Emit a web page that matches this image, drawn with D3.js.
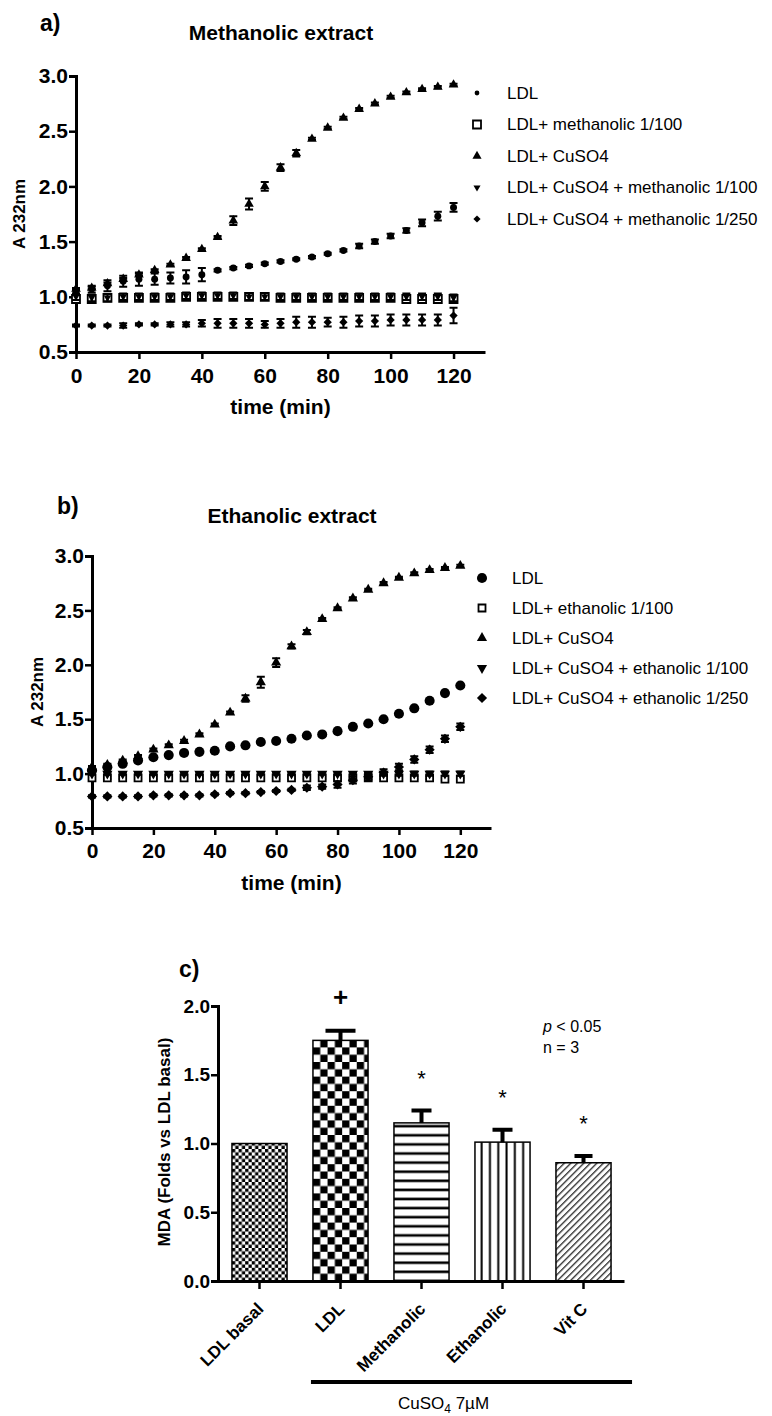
<!DOCTYPE html>
<html lang="en-US">
<head>
    <meta charset="utf-8">
    <script src="https://d3js.org/d3.v7.min.js"></script>
    <style>
        body { margin: 0; background: #fff; }
        text { font-family: "Liberation Sans", Arial, sans-serif; fill: #000; }
    </style>
</head>
<body>
<div id="canvas"></div>
<script>
    // ---- data ----
    var times = [0, 5, 10, 15, 20, 25, 30, 35, 40, 45, 50, 55, 60, 65, 70, 75, 80, 85, 90, 95, 100, 105, 110, 115, 120];
    var timeTicks = [0, 20, 40, 60, 80, 100, 120];
    var absTicks = [0.5, 1.0, 1.5, 2.0, 2.5, 3.0];

    // a) methanolic extract
    var aNames = ["LDL", "LDL+ methanolic 1/100", "LDL+ CuSO4", "LDL+ CuSO4 + methanolic 1/100", "LDL+ CuSO4 + methanolic 1/250"];
    var aLDL = [1.04, 1.07, 1.10, 1.14, 1.16, 1.16, 1.17, 1.18, 1.20, 1.24, 1.26, 1.28, 1.30, 1.32, 1.34, 1.36, 1.39, 1.42, 1.46, 1.50, 1.55, 1.60, 1.67, 1.73, 1.81];
    var aLDLErr = [0.03, 0.03, 0.05, 0.05, 0.06, 0.05, 0.05, 0.06, 0.06, 0.01, 0.01, 0.01, 0.01, 0.01, 0.01, 0.01, 0.01, 0.01, 0.02, 0.02, 0.02, 0.02, 0.03, 0.04, 0.04];
    var aMeth100 = [0.98, 0.98, 0.99, 0.99, 0.99, 0.99, 0.99, 1.00, 1.00, 1.00, 1.00, 1.00, 1.00, 0.99, 0.99, 0.99, 0.99, 0.99, 0.99, 0.99, 0.99, 0.98, 0.98, 0.98, 0.98];
    var aMeth100Err = [0.01, 0.01, 0.01, 0.01, 0.01, 0.01, 0.01, 0.01, 0.01, 0.01, 0.01, 0.01, 0.01, 0.01, 0.01, 0.01, 0.01, 0.01, 0.01, 0.01, 0.01, 0.01, 0.01, 0.01, 0.01];
    var aCu = [1.07, 1.08, 1.12, 1.16, 1.20, 1.24, 1.29, 1.35, 1.43, 1.54, 1.69, 1.84, 2.00, 2.17, 2.30, 2.43, 2.53, 2.62, 2.70, 2.75, 2.81, 2.85, 2.88, 2.90, 2.92];
    var aCuErr = [0.01, 0.01, 0.01, 0.01, 0.01, 0.01, 0.01, 0.01, 0.01, 0.01, 0.04, 0.05, 0.04, 0.03, 0.03, 0.01, 0.01, 0.01, 0.01, 0.01, 0.01, 0.01, 0.01, 0.01, 0.01];
    var aCuMeth100 = [1.00, 0.99, 0.99, 1.00, 1.00, 1.00, 1.00, 1.01, 1.01, 1.01, 1.01, 1.00, 1.00, 1.00, 1.00, 1.00, 1.00, 1.00, 1.00, 1.00, 1.00, 1.00, 1.00, 1.00, 0.99];
    var aCuMeth100Err = [0.03, 0.03, 0.03, 0.03, 0.03, 0.03, 0.03, 0.03, 0.03, 0.03, 0.03, 0.03, 0.03, 0.03, 0.03, 0.03, 0.03, 0.03, 0.03, 0.03, 0.03, 0.03, 0.03, 0.03, 0.03];
    var aCuMeth250 = [0.74, 0.74, 0.74, 0.74, 0.75, 0.75, 0.75, 0.75, 0.76, 0.76, 0.76, 0.76, 0.75, 0.76, 0.77, 0.77, 0.77, 0.77, 0.78, 0.78, 0.79, 0.79, 0.79, 0.79, 0.83];
    var aCuMeth250Err = [0.01, 0.01, 0.01, 0.02, 0.01, 0.01, 0.02, 0.02, 0.03, 0.04, 0.04, 0.04, 0.03, 0.04, 0.05, 0.05, 0.04, 0.05, 0.05, 0.05, 0.05, 0.05, 0.05, 0.05, 0.07];

    // b) ethanolic extract
    var bNames = ["LDL", "LDL+ ethanolic 1/100", "LDL+ CuSO4", "LDL+ CuSO4 + ethanolic 1/100", "LDL+ CuSO4 + ethanolic 1/250"];
    var bLDL = [1.03, 1.06, 1.09, 1.12, 1.15, 1.17, 1.19, 1.20, 1.21, 1.25, 1.26, 1.29, 1.30, 1.32, 1.35, 1.36, 1.39, 1.43, 1.46, 1.50, 1.55, 1.60, 1.67, 1.74, 1.81];
    var bLDLErr = [0.01, 0.01, 0.01, 0.01, 0.01, 0.01, 0.01, 0.01, 0.01, 0.01, 0.01, 0.01, 0.01, 0.01, 0.01, 0.01, 0.01, 0.01, 0.01, 0.01, 0.01, 0.01, 0.01, 0.01, 0.01];
    var bEth100 = [0.96, 0.96, 0.96, 0.96, 0.96, 0.96, 0.96, 0.96, 0.96, 0.96, 0.96, 0.96, 0.96, 0.96, 0.96, 0.96, 0.96, 0.96, 0.96, 0.96, 0.96, 0.96, 0.96, 0.95, 0.95];
    var bEth100Err = [0.01, 0.01, 0.01, 0.01, 0.01, 0.01, 0.01, 0.01, 0.01, 0.01, 0.01, 0.01, 0.01, 0.01, 0.01, 0.01, 0.01, 0.01, 0.01, 0.01, 0.01, 0.01, 0.01, 0.01, 0.01];
    var bCu = [1.06, 1.08, 1.12, 1.16, 1.22, 1.26, 1.30, 1.36, 1.45, 1.56, 1.69, 1.84, 2.02, 2.17, 2.30, 2.42, 2.52, 2.61, 2.69, 2.75, 2.80, 2.84, 2.87, 2.89, 2.91];
    var bCuErr = [0.01, 0.01, 0.01, 0.01, 0.01, 0.01, 0.01, 0.01, 0.01, 0.01, 0.03, 0.05, 0.04, 0.02, 0.02, 0.01, 0.01, 0.01, 0.01, 0.01, 0.01, 0.01, 0.01, 0.01, 0.01];
    var bCuEth100 = [1.00, 1.00, 1.00, 1.00, 1.00, 1.00, 1.00, 1.00, 1.00, 1.00, 1.00, 1.00, 1.00, 1.00, 1.00, 1.00, 1.00, 1.00, 1.00, 1.00, 1.00, 1.00, 1.00, 1.00, 1.00];
    var bCuEth100Err = [0.01, 0.01, 0.01, 0.01, 0.01, 0.01, 0.01, 0.01, 0.01, 0.01, 0.01, 0.01, 0.01, 0.01, 0.01, 0.01, 0.01, 0.01, 0.01, 0.01, 0.02, 0.02, 0.02, 0.02, 0.02];
    var bCuEth250 = [0.79, 0.79, 0.79, 0.79, 0.80, 0.80, 0.80, 0.80, 0.81, 0.82, 0.82, 0.83, 0.84, 0.85, 0.87, 0.88, 0.90, 0.94, 0.97, 1.01, 1.06, 1.13, 1.22, 1.32, 1.43];
    var bCuEth250Err = [0.01, 0.01, 0.01, 0.01, 0.01, 0.01, 0.01, 0.01, 0.01, 0.01, 0.01, 0.01, 0.01, 0.01, 0.02, 0.02, 0.03, 0.03, 0.03, 0.03, 0.03, 0.03, 0.03, 0.03, 0.03];

    // c) MDA bars
    var mdaCats = ["LDL basal", "LDL", "Methanolic", "Ethanolic", "Vit C"];
    var mdaVals = [1.00, 1.75, 1.15, 1.01, 0.86];
    var mdaErrs = [0, 0.07, 0.09, 0.09, 0.05];
    var mdaSig = ["", "+", "*", "*", "*"];
    var mdaTicks = [0.0, 0.5, 1.0, 1.5, 2.0];

    // ---- drawing ----
    var FONT = "'Liberation Sans', Arial, sans-serif";
    var svg = d3.select("#canvas").append("svg")
        .attr("width", 772)
        .attr("height", 1416);
    var defs = svg.append("defs");

    function styleAxis(ax, fs) {
        ax.attr("font-family", FONT).attr("font-size", fs).attr("font-weight", "bold");
        ax.select(".domain").attr("stroke-width", 3);
        ax.selectAll(".tick line").attr("stroke-width", 2.5);
        ax.selectAll(".tick text").attr("fill", "#000");
    }

    function markerTransform(kind) {
        if (kind === "invtri") return " rotate(180)";
        if (kind === "diamond") return " rotate(45)";
        return "";
    }

    function markerPath(kind, size) {
        if (kind === "circle") return d3.symbol(d3.symbolCircle, size)();
        if (kind === "square" || kind === "diamond") return d3.symbol(d3.symbolSquare, size)();
        return d3.symbol(d3.symbolTriangle, size)();
    }

    function drawTimePanel(cfg) {
        var g = svg.append("g");
        var x = d3.scaleLinear().domain([0, 130]).range(cfg.xr);
        var y = d3.scaleLinear().domain([0.5, 3.0]).range(cfg.yr);

        var ax = g.append("g")
            .attr("transform", "translate(0," + cfg.yr[0] + ")")
            .call(d3.axisBottom(x).tickValues(timeTicks).tickSize(7).tickSizeOuter(0).tickPadding(cfg.xPad));
        styleAxis(ax, 21);
        var ay = g.append("g")
            .attr("transform", "translate(" + cfg.xr[0] + ",0)")
            .call(d3.axisLeft(y).tickValues(absTicks).tickFormat(d3.format(".1f")).tickSize(7).tickPadding(1));
        styleAxis(ay, 21);

        cfg.series.forEach(function (s) {
            var pts = times.map(function (t, i) { return { t: t, v: s.values[i], e: s.errs[i] }; });
            g.append("g")
                .attr("stroke", "#000")
                .attr("stroke-width", 2)
                .attr("fill", "none")
                .selectAll("path")
                .data(pts.filter(function (d) { return d.e > 0.005; }))
                .enter()
                .append("path")
                .attr("d", function (d) {
                    var cx = x(d.t), y1 = y(d.v + d.e), y0 = y(d.v - d.e);
                    return "M" + (cx - 4) + "," + y1 + "H" + (cx + 4) +
                        "M" + cx + "," + y1 + "V" + y0 +
                        "M" + (cx - 4) + "," + y0 + "H" + (cx + 4);
                });
            g.append("g")
                .selectAll("path")
                .data(pts)
                .enter()
                .append("path")
                .attr("transform", function (d) { return "translate(" + x(d.t) + "," + y(d.v) + ")" + markerTransform(s.kind); })
                .attr("d", markerPath(s.kind, s.size))
                .attr("fill", s.open ? "#fff" : "#000")
                .attr("stroke", s.open ? "#000" : "none")
                .attr("stroke-width", 1.8);
        });

        // legend
        var lg = g.append("g");
        cfg.series.forEach(function (s, i) {
            var ly = cfg.legY + i * cfg.legStep;
            lg.append("path")
                .attr("transform", "translate(" + cfg.legX + "," + ly + ")" + markerTransform(s.kind))
                .attr("d", markerPath(s.kind, s.legSize))
                .attr("fill", s.open ? "#fff" : "#000")
                .attr("stroke", s.open ? "#000" : "none")
                .attr("stroke-width", 1.8);
            lg.append("text")
                .attr("x", cfg.legX + 30)
                .attr("y", ly)
                .attr("dy", "0.35em")
                .attr("font-size", 17)
                .text(cfg.names[i]);
        });

        g.append("text")
            .attr("x", cfg.labelPos[0]).attr("y", cfg.labelPos[1])
            .attr("font-size", 23).attr("font-weight", "bold")
            .text(cfg.label);
        g.append("text")
            .attr("x", cfg.titlePos[0]).attr("y", cfg.titlePos[1])
            .attr("text-anchor", "middle")
            .attr("font-size", 21).attr("font-weight", "bold")
            .text(cfg.title);
        g.append("text")
            .attr("x", (cfg.xr[0] + cfg.xr[1]) / 2)
            .attr("y", cfg.yr[0] + 62)
            .attr("text-anchor", "middle")
            .attr("font-size", 21).attr("font-weight", "bold")
            .text("time (min)");
        g.append("text")
            .attr("transform", "translate(" + cfg.yTitleX + "," + ((cfg.yr[0] + cfg.yr[1]) / 2) + ") rotate(-90)")
            .attr("text-anchor", "middle")
            .attr("font-size", 17).attr("font-weight", "bold")
            .text("A 232nm");
    }

    drawTimePanel({
        xr: [76, 485], yr: [352, 76], xPad: 9,
        label: "a)", labelPos: [40, 31],
        title: "Methanolic extract", titlePos: [281, 40],
        yTitleX: 25,
        legX: 477, legY: 93, legStep: 31.5,
        names: aNames,
        series: [
            { values: aLDL, errs: aLDLErr, kind: "circle", size: 38, legSize: 18 },
            { values: aMeth100, errs: aMeth100Err, kind: "square", size: 64, legSize: 64, open: true },
            { values: aCu, errs: aCuErr, kind: "triangle", size: 40, legSize: 36 },
            { values: aCuMeth100, errs: aCuMeth100Err, kind: "invtri", size: 22, legSize: 22 },
            { values: aCuMeth250, errs: aCuMeth250Err, kind: "diamond", size: 34, legSize: 26 }
        ]
    });

    drawTimePanel({
        xr: [92, 491], yr: [828, 556], xPad: 8,
        label: "b)", labelPos: [57, 514],
        title: "Ethanolic extract", titlePos: [292, 523],
        yTitleX: 43,
        legX: 482, legY: 578, legStep: 30,
        names: bNames,
        series: [
            { values: bLDL, errs: bLDLErr, kind: "circle", size: 80, legSize: 80 },
            { values: bEth100, errs: bEth100Err, kind: "square", size: 49, legSize: 49, open: true },
            { values: bCu, errs: bCuErr, kind: "triangle", size: 45, legSize: 45 },
            { values: bCuEth100, errs: bCuEth100Err, kind: "invtri", size: 45, legSize: 45 },
            { values: bCuEth250, errs: bCuEth250Err, kind: "diamond", size: 52, legSize: 52 }
        ]
    });

    // ---- panel c ----
    var gc = svg.append("g");
    var xc = d3.scaleBand().domain(mdaCats).range([219, 624]).paddingInner(0.32).paddingOuter(0.16);
    var yc = d3.scaleLinear().domain([0, 2]).range([1281, 1006]);
    var bw = xc.bandwidth();

    // fill patterns, one per bar, anchored on the bar
    var barFills = [];
    mdaCats.forEach(function (c, i) {
        var x0 = xc(c), id = "pat" + i, p;
        if (i === 0) {
            p = defs.append("pattern").attr("id", id).attr("patternUnits", "userSpaceOnUse")
                .attr("x", x0).attr("y", yc(0)).attr("width", 6.6).attr("height", 6.6);
            p.append("rect").attr("width", 6.6).attr("height", 6.6).attr("fill", "#fff");
            p.append("rect").attr("width", 3.3).attr("height", 3.3).attr("fill", "#000");
            p.append("rect").attr("x", 3.3).attr("y", 3.3).attr("width", 3.3).attr("height", 3.3).attr("fill", "#000");
        } else if (i === 1) {
            p = defs.append("pattern").attr("id", id).attr("patternUnits", "userSpaceOnUse")
                .attr("x", x0).attr("y", yc(0)).attr("width", 14.6).attr("height", 14.6);
            p.append("rect").attr("width", 14.6).attr("height", 14.6).attr("fill", "#fff");
            p.append("rect").attr("width", 7.3).attr("height", 7.3).attr("fill", "#000");
            p.append("rect").attr("x", 7.3).attr("y", 7.3).attr("width", 7.3).attr("height", 7.3).attr("fill", "#000");
        } else if (i === 2) {
            p = defs.append("pattern").attr("id", id).attr("patternUnits", "userSpaceOnUse")
                .attr("x", x0).attr("y", yc(0) + 4.5).attr("width", bw).attr("height", 9.1);
            p.append("rect").attr("width", bw).attr("height", 9.1).attr("fill", "#fff");
            p.append("rect").attr("y", 3.2).attr("width", bw).attr("height", 2.6).attr("fill", "#000");
        } else if (i === 3) {
            p = defs.append("pattern").attr("id", id).attr("patternUnits", "userSpaceOnUse")
                .attr("x", x0 + 2.5).attr("y", 0).attr("width", 8.3).attr("height", 20);
            p.append("rect").attr("width", 8.3).attr("height", 20).attr("fill", "#fff");
            p.append("rect").attr("x", 3.2).attr("width", 2).attr("height", 20).attr("fill", "#000");
        } else {
            p = defs.append("pattern").attr("id", id).attr("patternUnits", "userSpaceOnUse")
                .attr("width", 4.6).attr("height", 10).attr("patternTransform", "rotate(45)");
            p.append("rect").attr("width", 4.6).attr("height", 10).attr("fill", "#fff");
            p.append("rect").attr("x", 2).attr("width", 1.1).attr("height", 10).attr("fill", "#000");
        }
        barFills.push("url(#" + id + ")");
    });

    gc.selectAll(".bar")
        .data(mdaCats)
        .enter()
        .append("rect")
        .attr("class", "bar")
        .attr("x", function (d) { return xc(d); })
        .attr("y", function (d, i) { return yc(mdaVals[i]); })
        .attr("width", bw)
        .attr("height", function (d, i) { return yc(0) - yc(mdaVals[i]); })
        .attr("fill", function (d, i) { return barFills[i]; })
        .attr("stroke", "#000")
        .attr("stroke-width", 1.5);

    // error bars (upper only)
    var capW = [20, 30, 20, 20, 18];
    gc.append("g")
        .attr("stroke", "#000")
        .attr("stroke-width", 4)
        .attr("fill", "none")
        .selectAll("path")
        .data(mdaCats.filter(function (d, i) { return mdaErrs[i] > 0; }))
        .enter()
        .append("path")
        .attr("d", function (d) {
            var i = mdaCats.indexOf(d);
            var cx = xc(d) + bw / 2, top = yc(mdaVals[i] + mdaErrs[i]);
            return "M" + cx + "," + yc(mdaVals[i]) + "V" + top +
                "M" + (cx - capW[i] / 2) + "," + top + "H" + (cx + capW[i] / 2);
        });

    // significance marks
    gc.selectAll(".sig")
        .data(mdaCats)
        .enter()
        .append("text")
        .attr("class", "sig")
        .attr("x", function (d) { return xc(d) + bw / 2; })
        .attr("y", function (d, i) {
            var top = yc(mdaVals[i] + mdaErrs[i]);
            return mdaSig[i] === "+" ? top - 25 : top - 25;
        })
        .attr("text-anchor", "middle")
        .attr("font-size", function (d, i) { return mdaSig[i] === "+" ? 26 : 22; })
        .attr("font-weight", function (d, i) { return mdaSig[i] === "+" ? "bold" : "normal"; })
        .text(function (d, i) { return mdaSig[i]; });

    var axc = gc.append("g")
        .attr("transform", "translate(0," + yc(0) + ")")
        .call(d3.axisBottom(xc).tickSize(8).tickSizeOuter(0));
    styleAxis(axc, 17);
    axc.selectAll(".tick text")
        .attr("x", 0).attr("y", 0).attr("dy", 0)
        .attr("text-anchor", "end")
        .attr("transform", "translate(5,29) rotate(-45)");

    var ayc = gc.append("g")
        .attr("transform", "translate(" + 218 + ",0)")
        .call(d3.axisLeft(yc).tickValues(mdaTicks).tickFormat(d3.format(".1f")).tickSize(7).tickPadding(1));
    styleAxis(ayc, 19);

    gc.append("text")
        .attr("transform", "translate(170," + 1142 + ") rotate(-90)")
        .attr("text-anchor", "middle")
        .attr("font-size", 17).attr("font-weight", "bold")
        .text("MDA (Folds vs LDL basal)");

    gc.append("text")
        .attr("x", 179).attr("y", 977)
        .attr("font-size", 23).attr("font-weight", "bold")
        .text("c)");

    var pt = gc.append("text").attr("x", 543).attr("y", 1032).attr("font-size", 16);
    pt.append("tspan").attr("font-style", "italic").text("p");
    pt.append("tspan").text(" < 0.05");
    gc.append("text").attr("x", 543).attr("y", 1053).attr("font-size", 16).text("n = 3");

    // bracket for CuSO4 treated groups
    var bx0 = xc("LDL") - 2, bx1 = xc("Vit C") + bw + 21;
    gc.append("line")
        .attr("x1", bx0).attr("x2", bx1)
        .attr("y1", 1382).attr("y2", 1382)
        .attr("stroke", "#000").attr("stroke-width", 4);
    var cu = gc.append("text")
        .attr("x", (bx0 + bx1) / 2 - 28).attr("y", 1409)
        .attr("text-anchor", "middle")
        .attr("font-size", 17);
    cu.append("tspan").text("CuSO");
    cu.append("tspan").attr("font-size", 12).attr("dy", 4).text("4");
    cu.append("tspan").attr("dy", -4).text(" 7\u00b5M");
</script>
</body>
</html>
